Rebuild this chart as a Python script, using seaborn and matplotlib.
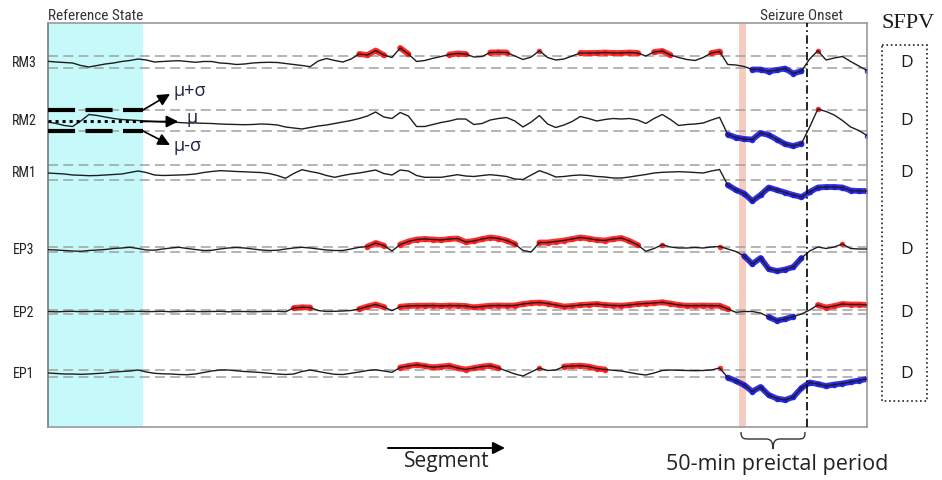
import numpy as np
import matplotlib
matplotlib.use("Agg")
import matplotlib.pyplot as plt
import matplotlib.transforms as mtransforms
from matplotlib.patches import PathPatch, Rectangle, FancyArrowPatch
from matplotlib.path import Path
import seaborn as sns

# Features, top to bottom, and half-width of each reference band (mu +/- sigma)
channels = ["RM3", "RM2", "RM1", "EP3", "EP2", "EP1"]
sigma = [6, 10.5, 7.5, 2.8, 2, 3.8]
sfpv = ["D", "D", "D", "D", "D", "D"]

segments = np.arange(101)
ref_end = 11.6                 # end of the reference state
preictal_mark = (84.4, 85.2)   # start of the 50-min preictal period
onset = 92.7                   # seizure onset

# deviation of each feature from its reference mean, one value per segment
rm3 = [0.7, 0, -0.5, -1, -3.5, -5, -3.5, -2, -1, 0.5,
       1.5, 3, 2, 0, 0.5, 1, 1.3, 0.5, -0.3, 0.5,
       0.5, -1, -1.5, -2.5, -2, -1, -0.5, -0.3, -0.5, -1.5,
       -2.5, -3.5, -4.7, 1, 3.5, 1.5, 0, 3, 8, 7,
       11.5, 7, 4.5, 14, 8, 0.5, 1.5, 3.7, 5.5, 7.5,
       8.5, 8, 5, 5.5, 9.5, 9.7, 9.5, 6, 2.5, 5,
       11.3, 4.5, 2, 3, 6, 9, 9, 9, 9.5, 9,
       9, 9.5, 9, 6, 10, 11, 7, 4.5, 2.5, 1.5,
       4.5, 9, 10.5, -2.5, -3, -4.5, -7.5, -7.5, -9.5, -8,
       -6.5, -11.5, -9, 3, 11.3, 2, 4, 5.5, 0.5, -4,
       -8.5]
rm2 = [-1.5, -3, -5, -6, -0.5, 6, 5, 3.5, 2, 1,
       0.5, 0, -0.5, -1, -1.5, -1.8, -2, -2.5, -2.5, -2.8,
       -3, -3.5, -3.8, -4, -4.2, -4, -3.5, -3.8, -4.5, -6.5,
       -7.5, -8.5, -7, -5.5, -4.5, -3, -1.5, 0, 2, 4.5,
       8.5, 3.5, 2, 8, 4.5, -6, -6, -4, -2, -0.5,
       1.5, 1.5, -4, -3, 0.5, 2, 3, -0.5, -6.5, -1.5,
       5, -3.5, -7, -4.5, -1, 4, 2, -0.5, 1, 2,
       1.5, 2, 0.5, -3, 2, 6, 1, -5, -4, -3.5,
       -2.5, 0.5, 3.2, -14, -17, -18.5, -19, -12.5, -14.5, -19,
       -23.5, -25.5, -23, -6.5, 11.5, 9, 5.5, 0, -6.5, -10,
       -15]
rm1 = [-0.5, -1, -1.5, -2.5, -2.8, -3.2, -3, -2.5, -2, -1.5,
       0, 1.5, 0, -2.5, -3, -2.8, -2.5, -2.2, -1.5, 0,
       1, 1.8, 1.5, 1, 0.7, 0.3, 0, -1, -3, -5.8,
       -1, 2.8, 1, -0.5, -3, -4.8, -3, -1.5, -0.5, 1,
       2.5, -1, -2.5, 2.5, 1.5, -3, -4.8, -4.8, -4.8, -3.5,
       -2.2, -3.5, -4, -3, -2.2, -3, -4, -6.5, -7, -2.5,
       1.8, -1, -4.5, -4, -3, -2.5, -3, -4, -4.5, -5.5,
       -5.5, -4.5, -3.2, -2, -0.5, 0.2, 0.5, 0.8, 0.5, 0,
       -0.5, 1.5, 3, -12.5, -17.5, -21, -28.5, -22.5, -15, -17.5,
       -20, -22.5, -24.5, -19.5, -15, -14.5, -14.5, -15, -18, -18.5,
       -18.5]
ep3 = [-0.2, -0.5, -1, -1.5, -1.8, -1, -0.5, 0, 1, 1.5,
       2.2, 1, -0.5, -0.7, 0.5, 1.5, 2.2, 1, 0, -1,
       -0.8, 0.5, 1.5, 2, 1.5, 0.5, -0.5, -1, -0.8, 0.5,
       1.5, 2.2, 1.5, 0.5, -0.5, -1, -1, 0.5, 2.2, 3,
       6.5, 4, -1.5, 5, 8, 10, 10.5, 10, 9.5, 10.5,
       11, 7.5, 8.5, 10.5, 12, 11, 9, 5.5, -1, -2.5,
       7, 7, 8, 9, 10.5, 12, 11, 9.5, 9, 10.5,
       11.5, 8.5, 4.5, -1.8, 1, 4.8, 2.5, 1.5, 1.5, 2,
       1.5, 2.5, 3, 0.5, -2, -6.5, -14.5, -8.5, -19.5, -21.5,
       -20, -17.5, -8.5, -1.5, 2.5, 1, 2.5, 5.5, 1, 0.5,
       0.5]
ep2 = [0.5, 0.2, 0.5, 0.7, 0.3, 0.5, 0.7, 0.3, 0.5, 0.2,
       0.5, 0.7, 0.3, 0.5, 0.7, 0.2, 0.5, 0.7, 0.5, 0.3,
       0.5, 0.7, 0.2, 0.5, 0.5, 0.2, 0.5, 0.5, 0.7, 0.2,
       4, 4.7, 4.5, 1.5, 0.5, 0.7, 1, 1.5, 3, 5.5,
       7.5, 5, 1.3, 5.3, 6, 6.3, 6.3, 6.5, 6, 6.5,
       6.3, 6, 4.7, 5.5, 6.3, 6.5, 6.3, 6.5, 8, 9,
       9.5, 8.5, 7, 5.5, 6, 7, 7.5, 8, 7, 6.5,
       6.3, 7, 8, 8.5, 9, 9.7, 8.5, 7, 6.3, 6.3,
       6.5, 6.3, 6.3, 3, -0.3, 0.5, 0.5, -1, -5, -8.7,
       -7, -4.5, -2, 2, 7, 4.5, 6, 8, 7.5, 7.5,
       7]
ep1 = [0.5, 0, -0.5, -0.5, -0.8, -0.5, 0, 0.5, 1.5, 2,
       2.5, 3.5, 1.5, 0.2, -0.3, -0.5, -1, -1.2, -0.5, 1,
       2.5, 3.5, 3.5, 2.7, 2, 1.5, 1, 0.2, -0.5, -1,
       -0.5, 2, 3.5, 2, 0.5, -0.8, -1, 0.2, 1.5, 3,
       3.7, 2.5, 1.2, 6, 7.5, 8.7, 7.5, 6.2, 7, 7.8,
       5.5, 4, 5.5, 7, 7.8, 5.5, 2.5, -0.5, -2.5, 1.5,
       5.5, 3, 3.5, 7, 7.5, 7.8, 7, 5, 4, 3.2,
       2.5, 1, -0.5, -1.5, 0.5, 3, 3.5, 3.2, 3, 2.8,
       3, 3.5, 5.5, -4, -7.5, -11.5, -18, -13.5, -21.5, -25,
       -26.5, -23.5, -14.5, -9, -10.5, -12.5, -11, -10, -8.5, -7,
       -5.5]
traces = [rm3, rm2, rm1, ep3, ep2, ep1]

# layout: baseline of each feature inside the panel
levels = [365, 306.5, 254.5, 177.5, 115, 53.5]

sns.set_style("white")
plt.rcParams["font.family"] = ["DejaVu Sans"]
narrow = dict(family=["Roboto Condensed", "DejaVu Sans"], fontstretch="condensed")
body = ["Open Sans", "DejaVu Sans"]

W, H = 942, 481
fig = plt.figure(figsize=(W / 100, H / 100), dpi=100)
pix = mtransforms.Affine2D().scale(1 / W, -1 / H).translate(0, 1) + fig.transFigure
ax = fig.add_axes([48 / W, 1 - 428 / H, 819 / W, 404 / H])
ax.set_xlim(0, 100)
ax.set_ylim(0, 404)
ax.set_xticks([])
ax.set_yticks([])
for sp in ax.spines.values():
    sp.set_color("#9a9a9a")
    sp.set_linewidth(1.2)
ax.spines["left"].set_color("#7a7a7a")

ax.axvspan(0, ref_end, color="#c6fafa", lw=0, zorder=0)
ax.axvspan(*preictal_mark, color="#f6cbc2", lw=0, zorder=0)
ax.axvline(onset, color="black", lw=1.2, ls=(0, (5, 2, 1, 2)), zorder=4)

for name, lvl, s, dev, mark in zip(channels, levels, sigma, traces, sfpv):
    dev = np.asarray(dev, dtype=float)
    y = lvl + dev
    for b in (lvl + s, lvl - s):
        ax.axhline(b, color="#a0a0a0", lw=1.1, dashes=(6.5, 3.5), zorder=1)
    hi = np.where(dev > s, y, np.nan)
    lo = np.where(dev < -s, y, np.nan)
    ax.plot(segments, hi, color="#ff1a1a", lw=4.2, marker="o", ms=4, mew=0,
            alpha=0.9, zorder=2, solid_capstyle="round")
    ax.plot(segments, lo, color="#1c1ce0", lw=4.2, marker="o", ms=4, mew=0,
            alpha=0.9, zorder=2, solid_capstyle="round")
    sns.lineplot(x=segments, y=y, ax=ax, color="#1e1e1e", lw=1.0, zorder=3)
    ax.text(-2.95, lvl, name, ha="center", va="center", fontsize=10,
            color="#222222", clip_on=False, **narrow)
    ax.text(104.8, lvl, mark, ha="center", va="center", fontsize=12.5,
            family=body, color="#1a1a1a", clip_on=False)

# mu / sigma guide on RM2 inside the reference state
lvl, s = levels[1], sigma[1]
for b in (lvl + s, lvl - s):
    ax.plot([0, ref_end], [b, b], color="black", lw=3, dashes=(6.5, 2.5),
            dash_capstyle="butt", zorder=5)
ax.plot([0, ref_end], [lvl, lvl], color="black", lw=2.2, ls=(0, (1, 1.3)), zorder=5)
arrow = dict(arrowstyle="-|>", lw=1.2, color="black", mutation_scale=18,
             shrinkA=0, shrinkB=0)
ax.annotate("", xy=(14.9, lvl + 26.5), xytext=(ref_end, lvl + s),
            arrowprops=arrow, annotation_clip=False)
ax.annotate("", xy=(15.9, lvl - 1), xytext=(ref_end, lvl - 1),
            arrowprops=arrow, annotation_clip=False)
ax.annotate("", xy=(14.9, lvl - 24.5), xytext=(ref_end, lvl - s),
            arrowprops=arrow, annotation_clip=False)
ax.text(15.3, lvl + 30, "μ+σ", ha="left", va="center", fontsize=13,
        family=body, color="#1c2340")
ax.text(16.9, lvl + 3, "μ", ha="left", va="center", fontsize=13,
        family=body, color="#1c2340")
ax.text(15.3, lvl - 25, "μ-σ", ha="left", va="center", fontsize=13,
        family=body, color="#1c2340")

# titles above the panel
fig.text(48, 16, "Reference State", transform=pix, ha="left", va="center",
         fontsize=11, color="#333333", **narrow)
fig.text(802, 16, "Seizure Onset", transform=pix, ha="center", va="center",
         fontsize=11, color="#333333", **narrow)
fig.text(908, 23, "SFPV", transform=pix, ha="center", va="center",
         fontsize=16, family=["Liberation Serif", "DejaVu Serif"], color="#1a1a1a")
fig.add_artist(Rectangle((882, 46), 45, 356, transform=pix, fill=False,
                         ls=":", lw=1.2, ec="#222222"))

# segment arrow and preictal brace below the panel
fig.add_artist(FancyArrowPatch(
    (388, 449), (505, 449), transform=pix, arrowstyle="-|>", lw=1.4,
    mutation_scale=18, color="black", shrinkA=0, shrinkB=0))
fig.text(447, 462, "Segment", transform=pix, ha="center", va="center",
         fontsize=15, family=body, color="#222222")
brace = Path([(741, 433), (741, 440), (744, 440), (750, 440),
              (766, 440), (771, 440), (773, 443), (773, 450),
              (773, 443), (775, 440), (780, 440), (797, 440),
              (803, 440), (805, 440), (805, 433)],
             [Path.MOVETO, Path.CURVE4, Path.CURVE4, Path.CURVE4,
              Path.LINETO, Path.CURVE4, Path.CURVE4, Path.CURVE4,
              Path.CURVE4, Path.CURVE4, Path.CURVE4, Path.LINETO,
              Path.CURVE4, Path.CURVE4, Path.CURVE4])
fig.add_artist(PathPatch(brace, transform=pix, fill=False, lw=1.0, ec="#333333"))
fig.text(777, 465, "50-min preictal period", transform=pix, ha="center",
         va="center", fontsize=15.5, family=body, color="#222222")

fig.savefig("out.png", dpi=100, facecolor="white")
